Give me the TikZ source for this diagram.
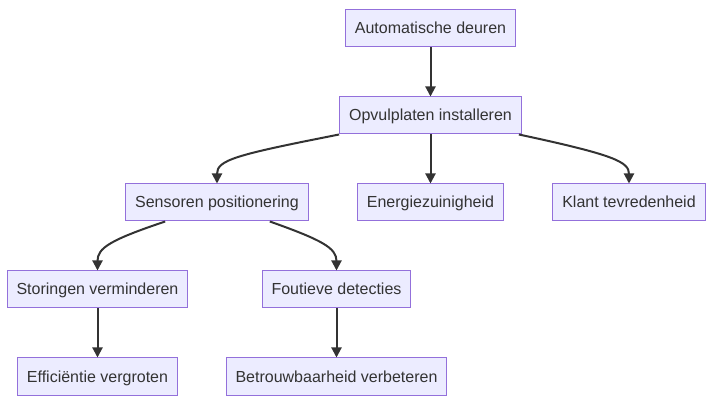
\documentclass[tikz,border=0pt]{standalone}
\usepackage{fontspec}
\setmainfont{Liberation Sans}
\usetikzlibrary{arrows.meta}
\definecolor{boxfill}{HTML}{ECECFF}
\definecolor{boxline}{HTML}{9370DB}
\definecolor{ink}{HTML}{333333}
\begin{document}
\begin{tikzpicture}[x=1pt,y=-1pt,
    box/.style={draw=boxline,fill=boxfill,line width=1pt,text=ink,
      minimum height=37pt,inner xsep=9.5pt,text height=14pt,text depth=3pt,
      font=\fontsize{16}{19}\selectfont},
    link/.style={draw=ink,line width=2pt,-{Triangle[length=10pt,width=10pt]}}]
  \useasboundingbox (0,0) rectangle (721,406);
  \node[box] (auto) at (430.5,28.5) {Automatische deuren};
  \node[box] (opv) at (430.5,115.5) {Opvulplaten installeren};
  \node[box] (sen) at (217,202.5) {Sensoren positionering};
  \node[box] (energie) at (430.5,202.5) {Energiezuinigheid};
  \node[box] (klant) at (629,202.5) {Klant tevredenheid};
  \node[box] (stor) at (97.5,289.5) {Storingen verminderen};
  \node[box] (fout) at (336.5,289.5) {Foutieve detecties};
  \node[box] (eff) at (97.5,376.5) {Efficiëntie vergroten};
  \node[box] (betr) at (336.5,376.5) {Betrouwbaarheid verbeteren};
  \draw[link] (auto) -- (opv);
  \draw[link] (opv) -- (energie);
  \draw[link] (opv.south west) .. controls (235,155) and (217,160) .. (sen.north);
  \draw[link] ([xshift=-3pt]opv.south east) .. controls (615,155) and (629,162) .. (klant.north);
  \draw[link] ([xshift=40pt]sen.south west) .. controls (110,240) and (97.5,248) .. (stor.north);
  \draw[link] ([xshift=-39pt]sen.south east) .. controls (322,240) and (336.5,248) .. (fout.north);
  \draw[link] (stor) -- (eff);
  \draw[link] (fout) -- (betr);
\end{tikzpicture}
\end{document}
